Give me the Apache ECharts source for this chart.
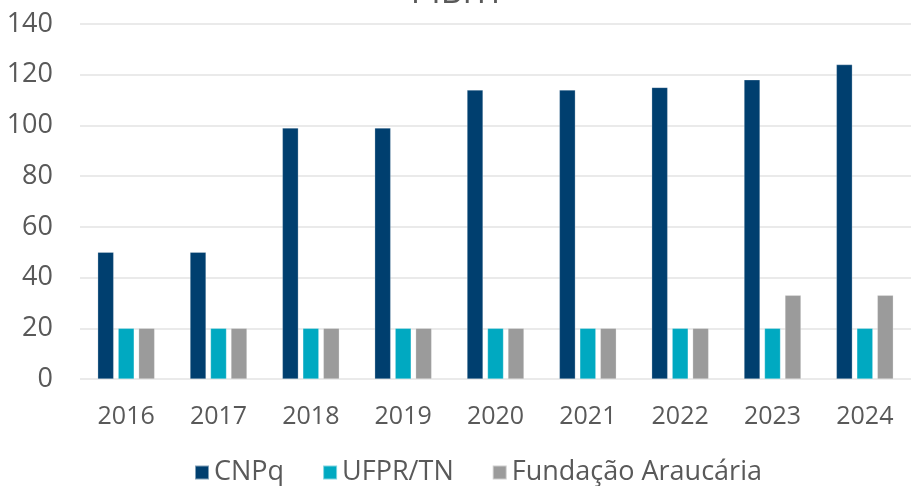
<!DOCTYPE html>
<html>
<head>
<meta charset="utf-8">
<script src="https://cdn.jsdelivr.net/npm/echarts@6/dist/echarts.min.js"></script>
<style>
  html, body { margin: 0; padding: 0; background: #fff; }
  #chart { width: 911px; height: 486px; }
</style>
</head>
<body>
<div id="chart"></div>
<script>
  // dados
  const anos = ['2016', '2017', '2018', '2019', '2020', '2021', '2022', '2023', '2024']
  const cnpq = [50, 50, 99, 99, 114, 114, 115, 118, 124]
  const ufpr = [20, 20, 20, 20, 20, 20, 20, 20, 20]
  const fundacao = [20, 20, 20, 20, 20, 20, 20, 33, 33]

  const fonte = '"Open Sans", sans-serif'
  const cinza = '#595959'

  const chart = echarts.init(document.getElementById('chart'))

  const barra = (name, data, color) => ({
    name: name,
    type: 'bar',
    data: data,
    barWidth: 16,
    barGap: '28%',
    itemStyle: { color: color, borderColor: 'rgba(255,255,255,0.5)', borderWidth: 0.5 }
  })

  chart.setOption({
    animation: false,
    textStyle: { fontFamily: fonte },
    title: {
      text: 'PIBITI',
      left: 'center',
      top: -29,
      textStyle: { fontFamily: fonte, fontSize: 34, fontWeight: 'normal', color: cinza }
    },
    legend: {
      top: 454,
      left: 189,
      itemWidth: 14,
      itemHeight: 14,
      itemGap: 38,
      icon: 'rect',
      textStyle: { fontFamily: fonte, fontSize: 27, color: cinza }
    },
    grid: { left: 80, right: 0, top: 24, bottom: 107 },
    xAxis: {
      type: 'category',
      data: anos,
      axisLine: { show: false },
      axisTick: { show: false },
      axisLabel: { fontFamily: fonte, fontSize: 25, color: cinza, margin: 25 }
    },
    yAxis: {
      type: 'value',
      min: 0,
      max: 140,
      interval: 20,
      axisLine: { show: false },
      axisTick: { show: false },
      axisLabel: { fontFamily: fonte, fontSize: 27, color: cinza, margin: 27 },
      splitLine: { lineStyle: { color: '#e3e3e3', width: 1.5 } }
    },
    series: [
      barra('CNPq', cnpq, '#003f6f'),
      barra('UFPR/TN', ufpr, '#00a9c1'),
      barra('Fundação Araucária', fundacao, '#9b9b9b')
    ]
  })
</script>
</body>
</html>
